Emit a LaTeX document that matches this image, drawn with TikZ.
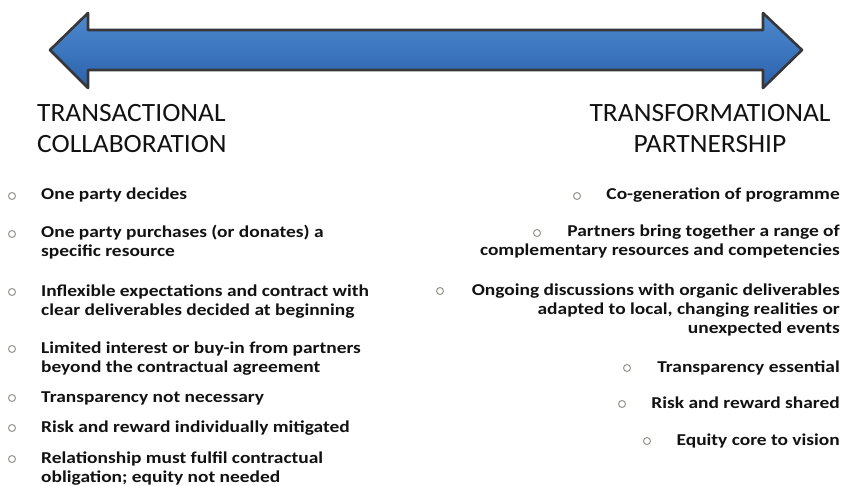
\documentclass[tikz,border=0pt]{standalone}
\usepackage{fontspec}
\setmainfont{Carlito}
\newfontfamily\headfont[FakeStretch=1.04]{Carlito}
\newfontfamily\bodyfont[FakeStretch=1.17]{Carlito}
\newcommand\tabL[1]{\begin{tabular}[t]{@{}l@{}}#1\end{tabular}}
\newcommand\tabR[1]{\begin{tabular}[t]{@{}r@{}}#1\end{tabular}}
\newcommand\tabC[1]{\begin{tabular}[t]{@{}c@{}}#1\end{tabular}}
\definecolor{arrowtop}{RGB}{78,138,208}
\definecolor{arrowbot}{RGB}{42,98,172}
\definecolor{arrowedge}{RGB}{55,55,58}
\definecolor{txt}{RGB}{18,18,18}
\definecolor{bulcol}{RGB}{150,148,140}
\begin{document}
\begin{tikzpicture}[x=1pt,y=-1pt,
  head/.style={inner sep=0pt,text=txt,font=\headfont\fontsize{26.4}{31}\selectfont},
  itemtext/.style={inner sep=0pt,text=txt,font=\bodyfont\bfseries\fontsize{16.6}{19}\selectfont},
  bul/.style={circle,draw=bulcol,line width=1pt,minimum size=7pt,inner sep=0pt}]
\useasboundingbox[fill=white] (0,0) rectangle (843,486);
% double arrow
\path[draw=arrowedge,line width=2.6pt,line join=round,top color=arrowtop,bottom color=arrowbot]
  (50,50) -- (88,13) -- (88,30) -- (763,30) -- (763,13) -- (802,50)
  -- (763,88) -- (763,70) -- (88,70) -- (88,88) -- cycle;
% headings
\node[head,anchor=base west] (hl) at (37,122) {\tabL{TRANSACTIONAL\\COLLABORATION}};
\node[head,anchor=base] (hr) at (710,122) {\tabC{TRANSFORMATIONAL\\PARTNERSHIP}};
% left items
\node[itemtext,anchor=base west] (l1) at (41,200) {\tabL{One party decides}};
\node[itemtext,anchor=base west] (l2) at (41,238) {\tabL{One party purchases (or donates) a\\specific resource}};
\node[itemtext,anchor=base west] (l3) at (41,296) {\tabL{Inflexible expectations and contract with\\clear deliverables decided at beginning}};
\node[itemtext,anchor=base west] (l4) at (41,353) {\tabL{Limited interest or buy-in from partners\\beyond the contractual agreement}};
\node[itemtext,anchor=base west] (l5) at (41,402) {\tabL{Transparency not necessary}};
\node[itemtext,anchor=base west] (l6) at (41,432) {\tabL{Risk and reward individually mitigated}};
\node[itemtext,anchor=base west] (l7) at (41,463) {\tabL{Relationship must fulfil contractual\\obligation; equity not needed}};
\foreach \n in {1,...,7}
  \node[bul] (lb\n) at ([xshift=-29pt,yshift=4pt]l\n.base west) {};
% right items
\node[itemtext,anchor=base east] (r1) at (840,200) {\tabR{Co-generation of programme}};
\node[itemtext,anchor=base east] (r2) at (840,237) {\tabR{Partners bring together a range of\\complementary resources and competencies}};
\node[itemtext,anchor=base east] (r3) at (840,295) {\tabR{Ongoing discussions with organic deliverables\\adapted to local, changing realities or\\unexpected events}};
\node[itemtext,anchor=base east] (r4) at (840,372) {\tabR{Transparency essential}};
\node[itemtext,anchor=base east] (r5) at (840,408) {\tabR{Risk and reward shared}};
\node[itemtext,anchor=base east] (r6) at (840,445) {\tabR{Equity core to vision}};
% right bullets: placed left of each first line
\node[bul] (rb1) at (577,196) {};
\node[bul] (rb2) at (537,233) {};
\node[bul] (rb3) at (440,291) {};
\node[bul] (rb4) at (627,368) {};
\node[bul] (rb5) at (622,404) {};
\node[bul] (rb6) at (647,441) {};
\end{tikzpicture}
\end{document}
